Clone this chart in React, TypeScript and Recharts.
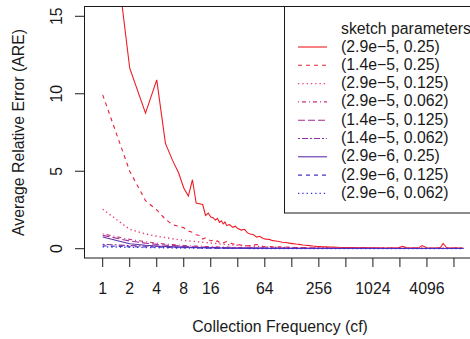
import { LineChart, Line, XAxis, YAxis } from 'recharts';

const FONT = '"Liberation Sans", Arial, Helvetica, sans-serif';
const INK = '#1a1a1a';

// collection frequencies, fine grid for the two noisy red series
const CF_FINE = [
  1, 2, 3, 4, 5, 6, 7, 8, 9, 10, 11, 12, 13, 14, 15, 16, 17, 18, 19, 20, 21, 22, 23, 24,
  26, 28, 30, 32, 35, 38, 41, 44, 48, 52, 56, 61, 66, 72, 78, 85, 92, 100, 110, 120,
  130, 142, 155, 170, 185, 200, 220, 240, 260, 285, 310, 340, 370, 410, 450, 500,
  560, 620, 700, 800, 900, 1024, 1200, 1400, 1600, 1900, 2200, 2500, 2900, 3300, 3600,
  4096, 4600, 5200, 5800, 6200, 6800, 7600, 8400, 9300, 10400,
];

const ARE_29E5_025 = [
  26.0, 11.65, 8.75, 10.9, 6.8, 5.7, 4.9, 3.92, 3.4, 4.45, 2.95, 2.9, 2.85, 2.15, 2.3, 2.05, 2.0, 1.85, 1.95, 1.7, 1.8, 1.6, 1.72, 1.5,
  1.55, 1.38, 1.45, 1.3, 1.2, 1.25, 1.02, 0.95, 0.9, 0.75, 0.8, 0.66, 0.62, 0.6, 0.52, 0.5, 0.46, 0.42, 0.4, 0.36,
  0.33, 0.3, 0.28, 0.24, 0.22, 0.2, 0.17, 0.15, 0.14, 0.12, 0.12, 0.1, 0.1, 0.09, 0.08, 0.08,
  0.07, 0.07, 0.06, 0.07, 0.06, 0.06, 0.06, 0.05, 0.06, 0.05, 0.15, 0.05, 0.06, 0.05, 0.2,
  0.06, 0.05, 0.06, 0.08, 0.34, 0.06, 0.05, 0.06, 0.05, 0.05,
];

const ARE_14E5_025 = [
  9.93, 5.0, 3.1, 2.5, 1.9, 1.55, 1.45, 1.35, 1.15, 1.05, 0.9, 0.85, 0.62, 0.7, 0.6, 0.5, 0.55, 0.45, 0.5, 0.4, 0.44, 0.38, 0.42, 0.46,
  0.4, 0.3, 0.32, 0.27, 0.22, 0.2, 0.18, 0.2, 0.24, 0.27, 0.2, 0.15, 0.12, 0.14, 0.12, 0.11, 0.12, 0.1, 0.1, 0.09,
  0.09, 0.08, 0.08, 0.07, 0.07, 0.06, 0.06, 0.05, 0.05, 0.05, 0.05, 0.04, 0.04, 0.04, 0.04, 0.04,
  0.04, 0.03, 0.04, 0.03, 0.03, 0.03, 0.03, 0.03, 0.03, 0.03, 0.03, 0.03, 0.03, 0.03, 0.03,
  0.03, 0.03, 0.03, 0.03, 0.03, 0.03, 0.03, 0.03, 0.03, 0.03,
];

// coarser grid for the low, smooth series
const CF_COARSE = [1, 2, 3, 4, 5, 6, 7, 8, 10, 12, 14, 16, 20, 24, 32, 40, 48, 64, 96, 128, 192, 256, 512, 1024, 2048, 4096, 8192, 10400];

const ARE_29E5_0125 = [2.55, 1.25, 0.95, 0.8, 0.72, 0.64, 0.58, 0.54, 0.48, 0.44, 0.4, 0.37, 0.31, 0.27, 0.22, 0.19, 0.16, 0.12, 0.09, 0.07, 0.06, 0.05, 0.04, 0.04, 0.03, 0.03, 0.03, 0.03];
const ARE_29E5_0062 = [0.96, 0.6, 0.45, 0.36, 0.3, 0.27, 0.24, 0.21, 0.18, 0.16, 0.14, 0.13, 0.11, 0.1, 0.08, 0.07, 0.06, 0.05, 0.04, 0.04, 0.03, 0.03, 0.03, 0.02, 0.02, 0.02, 0.02, 0.02];
const ARE_14E5_0125 = [0.86, 0.5, 0.36, 0.28, 0.23, 0.2, 0.18, 0.16, 0.13, 0.11, 0.1, 0.09, 0.07, 0.06, 0.05, 0.04, 0.04, 0.03, 0.03, 0.02, 0.02, 0.02, 0.02, 0.02, 0.01, 0.01, 0.01, 0.01];
const ARE_14E5_0062 = [0.28, 0.2, 0.17, 0.15, 0.13, 0.12, 0.11, 0.1, 0.09, 0.08, 0.07, 0.07, 0.06, 0.05, 0.04, 0.04, 0.03, 0.03, 0.02, 0.02, 0.02, 0.02, 0.01, 0.01, 0.01, 0.01, 0.01, 0.01];
const ARE_29E6_025 = [0.76, 0.32, 0.22, 0.17, 0.14, 0.12, 0.11, 0.1, 0.08, 0.07, 0.06, 0.06, 0.05, 0.04, 0.03, 0.03, 0.03, 0.02, 0.02, 0.02, 0.01, 0.01, 0.01, 0.01, 0.01, 0.01, 0.01, 0.01];
const ARE_29E6_0125 = [0.18, 0.13, 0.11, 0.1, 0.09, 0.08, 0.07, 0.07, 0.06, 0.05, 0.05, 0.04, 0.04, 0.03, 0.03, 0.02, 0.02, 0.02, 0.01, 0.01, 0.01, 0.01, 0.01, 0.01, 0.01, 0.01, 0.01, 0.01];
const ARE_29E6_0062 = [0.12, 0.09, 0.08, 0.07, 0.06, 0.05, 0.05, 0.04, 0.04, 0.03, 0.03, 0.03, 0.02, 0.02, 0.02, 0.02, 0.01, 0.01, 0.01, 0.01, 0.01, 0.01, 0.01, 0.01, 0.01, 0.01, 0.01, 0.01];

const LABELS = [
  '(2.9e−5, 0.25)', '(1.4e−5, 0.25)', '(2.9e−5, 0.125)', '(2.9e−5, 0.062)', '(1.4e−5, 0.125)',
  '(1.4e−5, 0.062)', '(2.9e−6, 0.25)', '(2.9e−6, 0.125)', '(2.9e−6, 0.062)',
];
const COLORS = ['#EE1C24', '#E8203C', '#EC3A70', '#C8307E', '#A42E96', '#8630A4', '#5E30AE', '#4234BC', '#3030E8'];
// R lty 1..6, then repeating
const DASHES = ['', '4 4', '1.3 3', '1 3 4 3', '7 3', '2 2 6 2', '', '4 4', '1.3 3'];
const WIDTHS = [1.1, 1.1, 1.4, 1.1, 1.1, 1.1, 1.1, 1.1, 1.4];

const X_TICKS = [1, 2, 4, 8, 16, 32, 64, 128, 256, 512, 1024, 2048, 4096, 8192];
const X_LABELLED = [1, 2, 4, 8, 16, 64, 256, 1024, 4096];
const Y_TICKS = [0, 5, 10, 15];

const toRows = (cf: number[], vals: number[]) => cf.map((c, i) => ({ cf: c, are: vals[i] }));

const SERIES = [
  toRows(CF_FINE, ARE_29E5_025),
  toRows(CF_FINE, ARE_14E5_025),
  toRows(CF_COARSE, ARE_29E5_0125),
  toRows(CF_COARSE, ARE_29E5_0062),
  toRows(CF_COARSE, ARE_14E5_0125),
  toRows(CF_COARSE, ARE_14E5_0062),
  toRows(CF_COARSE, ARE_29E6_025),
  toRows(CF_COARSE, ARE_29E6_0125),
  toRows(CF_COARSE, ARE_29E6_0062),
];

const textStyle = { fontFamily: FONT, fontSize: 15.8, fill: INK };

const XTick = ({ x, payload }: any) => {
  if (!X_LABELLED.includes(payload.value)) return <g />;
  return <text x={x} y={294} textAnchor="middle" style={textStyle}>{payload.value}</text>;
};

const YTick = ({ y, payload }: any) => (
  <text transform={`translate(56,${y}) rotate(-90)`} dy={5.6} textAnchor="middle" style={textStyle}>
    {payload.value}
  </text>
);

export default function App() {
  return (
    <div style={{ position: 'absolute', left: 0, top: 0, width: 470, height: 339, overflow: 'hidden', background: '#fff' }}>
      <LineChart width={477} height={339} margin={{ top: 7, right: 1, bottom: 0, left: 24 }}>
        <XAxis
          type="number"
          dataKey="cf"
          scale="log"
          domain={[0.619, 14420]}
          allowDataOverflow
          ticks={X_TICKS}
          interval={0}
          height={81}
          axisLine={false}
          tickSize={9}
          tickLine={{ stroke: INK }}
          tick={<XTick />}
        />
        <YAxis
          type="number"
          domain={[-0.6, 15.6]}
          allowDataOverflow
          ticks={Y_TICKS}
          interval={0}
          width={60}
          axisLine={false}
          tickSize={9}
          tickLine={{ stroke: INK }}
          tick={<YTick />}
        />
        {SERIES.map((rows, i) => (
          <Line
            key={LABELS[i]}
            data={rows}
            dataKey="are"
            type="linear"
            stroke={COLORS[i]}
            strokeWidth={WIDTHS[i]}
            strokeDasharray={DASHES[i] || undefined}
            dot={false}
            activeDot={false}
            isAnimationActive={false}
          />
        ))}
      </LineChart>

      <svg width={470} height={339} style={{ position: 'absolute', left: 0, top: 0, pointerEvents: 'none' }}>
        {/* plot box */}
        <rect x={84.5} y={6.5} width={400} height={251.5} fill="none" stroke={INK} />
        <text transform="translate(19,132.5) rotate(-90)" dy={4.7} textAnchor="middle" style={textStyle}>
          Average Relative Error (ARE)
        </text>
        <text x={280} y={331.5} textAnchor="middle" style={textStyle}>Collection Frequency (cf)</text>

        {/* legend */}
        <rect x={284.5} y={6.5} width={200} height={206.5} fill="#fff" stroke={INK} />
        <text x={341} y={34} style={textStyle}>sketch parameters</text>
        {LABELS.map((label, i) => {
          const cy = 47 + i * 18.3;
          return (
            <g key={label}>
              <line x1={298} x2={327} y1={cy} y2={cy} stroke={COLORS[i]} strokeWidth={WIDTHS[i]} strokeDasharray={DASHES[i] || undefined} />
              <text x={341} y={cy + 4.5} style={textStyle}>{label}</text>
            </g>
          );
        })}
      </svg>
    </div>
  );
}
